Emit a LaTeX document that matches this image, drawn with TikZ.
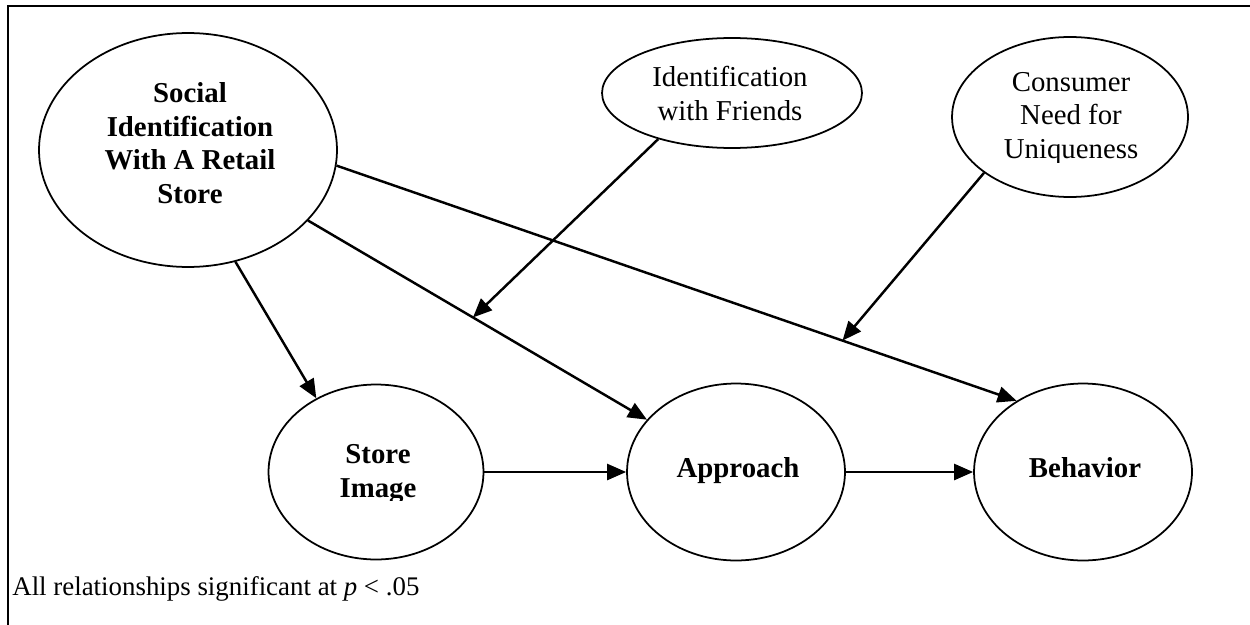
\documentclass[tikz,border=0pt]{standalone}
\usepackage{fontspec}
\setmainfont{Liberation Serif}
\usetikzlibrary{shapes.geometric,arrows.meta,calc}

\begin{document}
\begin{tikzpicture}[x=0.02cm, y=-0.02cm,
  bubble/.style={draw, ellipse, line width=1pt, inner sep=0pt},
  arr/.style={line width=1.4pt, -{Triangle[length=0.38cm,width=0.32cm]}},
  lbl/.style={font=\fontsize{16.4}{19}\selectfont, align=center, inner sep=0pt, anchor=base},
  lblb/.style={lbl, font=\fontsize{16.4}{19}\selectfont\bfseries},
]
\useasboundingbox (0,0) rectangle (1250,625);

% open frame: top and left rules
\draw[line width=1.1pt] (8,625) -- (8,6) -- (1250,6);

% constructs
\node[bubble, minimum width=5.96cm, minimum height=4.68cm] (social)   at (188,150) {};
\node[bubble, minimum width=5.2cm,  minimum height=2.2cm]  (friends)  at (732,93)  {};
\node[bubble, minimum width=4.72cm, minimum height=3.2cm]  (consumer) at (1070,117) {};
\node[bubble, minimum width=4.3cm,  minimum height=3.5cm]  (store)    at (376,472) {};
\node[bubble, minimum width=4.36cm, minimum height=3.54cm] (approach) at (736,472) {};
\node[bubble, minimum width=4.36cm, minimum height=3.54cm] (behavior) at (1083,472) {};

% labels, placed by the baseline of their last line
% (some are cut off at the bottom of their text area)
\begin{scope}
  \clip (40,40) rectangle (340,204);
  \node[lblb] (socialtext) at (190,203) {Social\\Identification\\With A Retail\\Store};
\end{scope}
\node[lbl] (friendstext) at (730,120) {Identification\\with Friends};
\begin{scope}
  \clip (950,40) rectangle (1190,162);
  \node[lbl] (consumertext) at (1071,158) {Consumer\\Need for\\Uniqueness};
\end{scope}
\begin{scope}
  \clip (270,400) rectangle (484,500);
  \node[lblb] (storetext) at (378,497) {Store\\Image};
\end{scope}
\node[lblb] (approachtext) at (738,477) {Approach};
\node[lblb] (behaviortext) at (1085,477) {Behavior};

% paths
\draw[arr] (social.-67) -- (store.129);
\draw[arr] (social) -- (approach);
\draw[arr] (social.-6) -- (behavior.133);
\draw[arr] (store) -- (approach);
\draw[arr] (approach) -- (behavior);

% moderators pointing at the paths they act on
\coordinate (fa) at ($(social.center)!0.52!(approach.center)$);
\coordinate (cb) at ($(social.-6)!0.744!(behavior.133)$);
\draw[arr] (friends.212) -- (fa);
\draw[arr] (consumer.213) -- (cb);

\node[font=\fontsize{15.3}{18}\selectfont, anchor=base west, inner sep=0pt] (note) at (12,595)
  {All relationships significant at \textit{p} < .05};
\end{tikzpicture}
\end{document}
